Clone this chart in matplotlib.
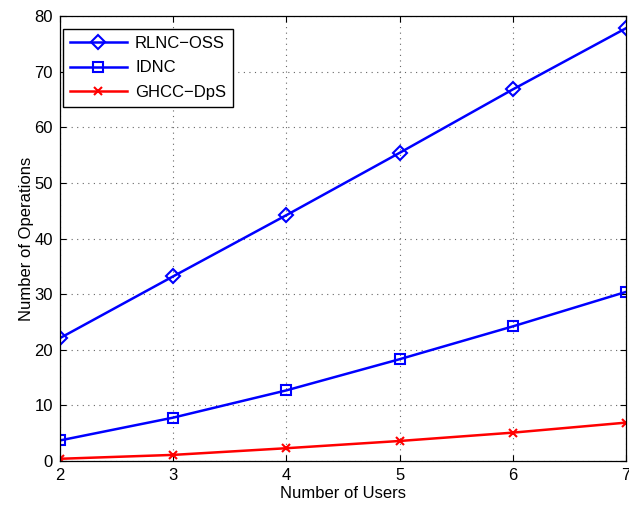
import matplotlib
matplotlib.use("Agg")
import matplotlib.pyplot as plt

users = [2, 3, 4, 5, 6, 7]
rlnc_oss = [22.1, 33.2, 44.2, 55.4, 66.8, 77.8]
idnc = [3.7, 7.8, 12.7, 18.3, 24.2, 30.4]
ghcc_dps = [0.4, 1.1, 2.3, 3.6, 5.1, 6.9]
xticks = [2, 3, 4, 5, 6, 7]
yticks = [0, 10, 20, 30, 40, 50, 60, 70, 80]

plt.rcParams['font.family'] = ['Liberation Sans', 'DejaVu Sans']

fig = plt.figure(figsize=(6.29, 5.08), dpi=100)
ax = fig.add_axes([0.0954, 0.0925, 0.8998, 0.876])

ax.plot(users, rlnc_oss, color='#0000ff', lw=1.8, marker='D', ms=7, mfc='none', mec='#0000ff', mew=1.5, label='RLNC\u2212OSS')
ax.plot(users, idnc, color='#0000ff', lw=1.8, marker='s', ms=7, mfc='none', mec='#0000ff', mew=1.5, label='IDNC')
ax.plot(users, ghcc_dps, color='#ff0000', lw=1.8, marker='x', ms=6, mew=1.5, label='GHCC\u2212DpS')

ax.set_xlim(2, 7)
ax.set_ylim(0, 80)
ax.set_xticks(xticks)
ax.set_yticks(yticks)
ax.tick_params(direction='in', length=4, labelsize=12, top=True, right=True, width=0.8, pad=5)
ax.grid(True, linestyle=(0, (1, 4)), color='#666666', linewidth=0.8)
for s in ax.spines.values():
    s.set_linewidth(0.9)

ax.set_xlabel('Number of Users', fontsize=12, labelpad=2)
ax.set_ylabel('Number of Operations', fontsize=12, labelpad=0)

leg = ax.legend(loc='upper left', fontsize=12, fancybox=False, edgecolor='black',
                framealpha=1, borderaxespad=0.2, handlelength=3.4, labelspacing=0.58,
                handletextpad=0.5, borderpad=0.4,
                bbox_to_anchor=(0.0, 0.978))
leg.get_frame().set_linewidth(1.0)

fig.savefig('out.png', dpi=100)
